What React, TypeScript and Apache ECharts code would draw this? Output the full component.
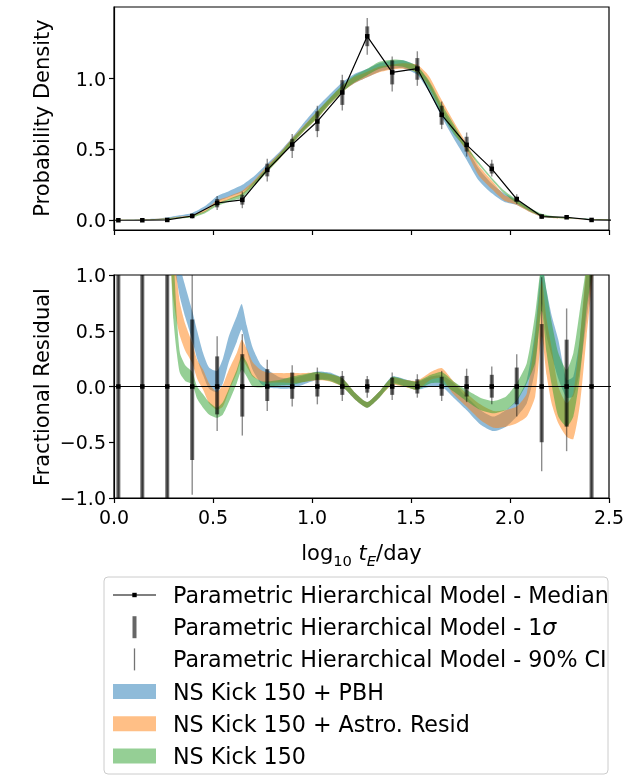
import React, { useEffect, useRef } from 'react';
import * as echarts from 'echarts';

// ---- bin centres (log10 tE/day) and hierarchical-model summaries ----
const binX = [-0.104, 0.022, 0.143, 0.269, 0.395, 0.521, 0.648, 0.774, 0.900, 1.027, 1.153, 1.279, 1.405, 1.532, 1.655, 1.781, 1.908, 2.034, 2.160, 2.286, 2.412, 2.538];
const medianPDF = [0, 0.000, 0.000, 0.002, 0.030, 0.122, 0.144, 0.356, 0.535, 0.698, 0.903, 1.300, 1.045, 1.071, 0.745, 0.533, 0.363, 0.149, 0.026, 0.021, 0.002, 0];
const sigLoPDF = [null, 0.000, 0.000, 0.000, 0.021, 0.091, 0.110, 0.310, 0.490, 0.630, 0.815, 1.230, 0.960, 0.993, 0.675, 0.485, 0.330, 0.130, 0.018, 0.016, 0.000, null];
const sigHiPDF = [null, 0.002, 0.002, 0.005, 0.040, 0.150, 0.180, 0.400, 0.575, 0.770, 0.990, 1.370, 1.130, 1.146, 0.809, 0.590, 0.400, 0.167, 0.034, 0.026, 0.004, null];
const ciLoPDF = [null, 0.000, 0.000, 0.000, 0.013, 0.073, 0.085, 0.273, 0.440, 0.587, 0.776, 1.170, 0.910, 0.950, 0.644, 0.450, 0.309, 0.115, 0.010, 0.012, 0.000, null];
const ciHiPDF = [null, 0.004, 0.004, 0.008, 0.050, 0.171, 0.202, 0.434, 0.610, 0.809, 1.028, 1.430, 1.158, 1.194, 0.839, 0.620, 0.427, 0.184, 0.040, 0.030, 0.006, null];

const residMedian = [0, 0, 0, 0, 0, 0, 0, 0, 0, 0, 0, 0, 0, 0, 0, 0, 0, 0, 0, 0, 0, 0];
const sigLoRes = [null, -9, -9, -9, -0.66, -0.25, -0.27, -0.13, -0.11, -0.09, -0.075, -0.055, -0.075, -0.063, -0.083, -0.09, -0.10, -0.16, -0.50, -0.36, -9, null];
const sigHiRes = [null, 9, 9, 9, 0.60, 0.27, 0.29, 0.155, 0.125, 0.11, 0.095, 0.065, 0.08, 0.065, 0.087, 0.095, 0.105, 0.17, 0.56, 0.42, 9, null];
const ciLoRes = [null, -9, -9, -9, -0.97, -0.40, -0.44, -0.22, -0.18, -0.16, -0.13, -0.10, -0.12, -0.10, -0.13, -0.14, -0.16, -0.27, -0.76, -0.58, -9, null];
const ciHiRes = [null, 9, 9, 9, 1.05, 0.45, 0.47, 0.24, 0.19, 0.17, 0.14, 0.095, 0.125, 0.11, 0.14, 0.16, 0.18, 0.29, 0.98, 0.70, 9, null];

// ---- model bands, top panel: [lower, upper] ----
const topX = [0.0, 0.1, 0.2, 0.27, 0.33, 0.395, 0.46, 0.52, 0.58, 0.648, 0.71, 0.774, 0.84, 0.90, 0.96, 1.027, 1.09, 1.153, 1.21, 1.279, 1.34, 1.405, 1.46, 1.53, 1.59, 1.655, 1.715, 1.78, 1.84, 1.908, 1.97, 2.034, 2.1, 2.16, 2.22, 2.286, 2.35, 2.41, 2.5];
const topPBH = [[0.000,0.002],[0.001,0.004],[0.004,0.010],[0.010,0.020],[0.022,0.035],[0.035,0.052],[0.075,0.100],[0.130,0.170],[0.165,0.205],[0.200,0.250],[0.265,0.315],[0.350,0.400],[0.445,0.490],[0.545,0.585],[0.640,0.690],[0.730,0.800],[0.830,0.890],[0.910,0.975],[0.965,1.030],[1.010,1.070],[1.050,1.110],[1.070,1.125],[1.075,1.130],[1.030,1.090],[0.910,0.980],[0.730,0.800],[0.580,0.660],[0.430,0.520],[0.285,0.370],[0.190,0.260],[0.130,0.190],[0.108,0.144],[0.060,0.085],[0.025,0.040],[0.015,0.025],[0.012,0.020],[0.008,0.014],[0.004,0.009],[0.001,0.004]];
const topAstro = [[0.000,0.002],[0.001,0.003],[0.003,0.008],[0.008,0.015],[0.015,0.025],[0.025,0.035],[0.058,0.075],[0.115,0.140],[0.145,0.170],[0.180,0.210],[0.255,0.285],[0.345,0.385],[0.440,0.480],[0.540,0.580],[0.630,0.670],[0.720,0.770],[0.820,0.860],[0.905,0.950],[0.965,1.010],[1.010,1.050],[1.045,1.085],[1.065,1.100],[1.070,1.110],[1.045,1.100],[0.950,1.020],[0.770,0.850],[0.630,0.700],[0.485,0.545],[0.320,0.390],[0.220,0.280],[0.140,0.180],[0.108,0.140],[0.058,0.080],[0.024,0.038],[0.014,0.024],[0.011,0.018],[0.007,0.012],[0.004,0.008],[0.001,0.004]];
const topKick = [[0.000,0.002],[0.001,0.003],[0.003,0.007],[0.007,0.013],[0.013,0.022],[0.020,0.032],[0.050,0.065],[0.100,0.120],[0.130,0.150],[0.160,0.190],[0.245,0.275],[0.340,0.375],[0.440,0.475],[0.540,0.575],[0.630,0.665],[0.720,0.770],[0.820,0.865],[0.905,0.955],[0.970,1.020],[1.025,1.070],[1.070,1.120],[1.090,1.135],[1.085,1.130],[1.040,1.090],[0.930,0.990],[0.750,0.820],[0.610,0.680],[0.505,0.525],[0.395,0.415],[0.285,0.300],[0.190,0.210],[0.120,0.145],[0.065,0.088],[0.028,0.045],[0.016,0.028],[0.012,0.020],[0.008,0.014],[0.004,0.009],[0.001,0.004]];

// ---- model bands, residual panel: [lower, upper] ----
const resX = [0.29, 0.30, 0.317, 0.333, 0.36, 0.395, 0.42, 0.45, 0.48, 0.52, 0.55, 0.58, 0.62, 0.645, 0.67, 0.70, 0.74, 0.774, 0.84, 0.90, 0.96, 1.027, 1.09, 1.153, 1.22, 1.279, 1.34, 1.405, 1.47, 1.53, 1.60, 1.655, 1.715, 1.78, 1.85, 1.917, 1.98, 2.034, 2.085, 2.127, 2.16, 2.185, 2.21, 2.244, 2.286, 2.32, 2.354, 2.387, 2.42];
const resPBH = [[1.20,1.80],[1.08,1.60],[0.95,1.30],[0.80,1.08],[0.62,0.90],[0.42,0.68],[0.25,0.50],[0.10,0.30],[-0.02,0.17],[-0.05,0.14],[0.03,0.25],[0.22,0.45],[0.40,0.63],[0.51,0.74],[0.33,0.55],[0.15,0.35],[0.03,0.20],[-0.01,0.15],[-0.02,0.08],[-0.015,0.075],[0.02,0.10],[0.06,0.135],[0.06,0.125],[0.0,0.075],[-0.12,-0.06],[-0.19,-0.14],[-0.10,-0.045],[0.035,0.09],[0.0,0.065],[-0.03,0.04],[0.0,0.09],[0.0,0.10],[-0.10,0.03],[-0.21,-0.09],[-0.34,-0.21],[-0.40,-0.27],[-0.36,-0.21],[-0.27,-0.12],[-0.15,0.06],[0.15,0.50],[0.74,1.10],[0.45,0.86],[0.28,0.64],[0.07,0.42],[-0.10,0.06],[-0.09,0.09],[0.15,0.45],[0.60,1.05],[1.10,1.60]];
const resAstro = [[1.00,1.50],[0.78,1.20],[0.58,0.98],[0.45,0.75],[0.32,0.56],[0.21,0.39],[0.07,0.24],[-0.03,0.15],[-0.15,0.03],[-0.21,-0.05],[-0.18,0.015],[-0.045,0.15],[0.12,0.30],[0.25,0.42],[0.18,0.34],[0.09,0.22],[0.05,0.15],[0.035,0.125],[0.035,0.12],[0.03,0.12],[0.04,0.12],[0.055,0.125],[0.045,0.11],[0.0,0.075],[-0.12,-0.06],[-0.19,-0.14],[-0.10,-0.045],[0.015,0.08],[-0.005,0.06],[-0.03,0.05],[0.06,0.13],[0.075,0.165],[-0.07,0.045],[-0.18,-0.06],[-0.30,-0.16],[-0.37,-0.22],[-0.36,-0.21],[-0.33,-0.18],[-0.27,-0.06],[-0.09,0.45],[0.45,0.95],[0.10,0.60],[-0.15,0.35],[-0.33,0.0],[-0.45,-0.15],[-0.47,-0.06],[-0.15,0.45],[0.45,1.10],[1.05,1.60]];
const resKick = [[1.00,1.50],[0.60,1.20],[0.30,0.62],[0.12,0.30],[0.05,0.19],[0.02,0.13],[-0.11,0.00],[-0.19,-0.07],[-0.25,-0.14],[-0.28,-0.19],[-0.25,-0.14],[-0.14,-0.02],[0.03,0.15],[0.15,0.28],[0.09,0.22],[0.0,0.10],[-0.01,0.05],[0.0,0.045],[0.01,0.06],[0.015,0.09],[0.04,0.11],[0.06,0.13],[0.05,0.115],[0.0,0.075],[-0.12,-0.06],[-0.19,-0.14],[-0.10,-0.045],[0.02,0.085],[0.0,0.06],[-0.03,0.045],[0.03,0.105],[0.03,0.13],[-0.045,0.045],[-0.13,-0.03],[-0.21,-0.10],[-0.24,-0.13],[-0.21,-0.09],[-0.13,0.03],[0.03,0.21],[0.21,0.65],[0.68,1.10],[0.30,0.85],[0.02,0.58],[-0.27,0.30],[-0.36,0.15],[-0.27,0.30],[0.10,0.70],[0.70,1.10],[1.10,1.60]];

const xTicks = [0, 0.5, 1.0, 1.5, 2.0, 2.5];
const topYTicks = [0, 0.5, 1.0];
const resYTicks = [-1.0, -0.5, 0, 0.5, 1.0];

const legendLabels = [
  'Parametric Hierarchical Model - Median',
  'Parametric Hierarchical Model - 1{s|σ}',
  'Parametric Hierarchical Model - 90% CI',
  'NS Kick 150 + PBH',
  'NS Kick 150 + Astro. Resid',
  'NS Kick 150',
];

const C_BLUE = 'rgba(31,119,180,0.5)';
const C_ORANGE = 'rgba(255,127,14,0.5)';
const C_GREEN = 'rgba(44,160,44,0.5)';
const FONT = 'DejaVu Sans';
const LEG_FS = 22.2;

const fmt = (v: number) => (v < 0 ? '\u2212' : '') + Math.abs(v).toFixed(1);

function bandSeries(xs: number[], pairs: number[][], color: string, ai: number) {
  return {
    type: 'custom', xAxisIndex: ai, yAxisIndex: ai, clip: true, z: 2, silent: true,
    data: [[xs[0], pairs[0][0]]],
    renderItem: (_p: any, api: any) => {
      const up = xs.map((x, i) => api.coord([x, pairs[i][1]]));
      const lo = xs.map((x, i) => api.coord([x, pairs[i][0]])).reverse();
      return { type: 'polygon', shape: { points: up.concat(lo), smooth: 0.2 }, style: { fill: color, stroke: null } };
    },
  };
}

function errSeries(lo: (number | null)[], hi: (number | null)[], width: number, color: string, ai: number) {
  const data = binX.map((x, i) => [x, lo[i], hi[i]]).filter((d) => d[1] != null && d[2] != null);
  return {
    type: 'custom', xAxisIndex: ai, yAxisIndex: ai, clip: true, z: 3, silent: true,
    data,
    encode: { x: 0, y: [1, 2] },
    renderItem: (_p: any, api: any) => {
      const x = api.value(0);
      const a = api.coord([x, api.value(1)]);
      const b = api.coord([x, api.value(2)]);
      return { type: 'line', shape: { x1: a[0], y1: a[1], x2: b[0], y2: b[1] }, style: { stroke: color, lineWidth: width } };
    },
  };
}

function medianSeries(vals: number[], ai: number) {
  return {
    type: 'line', xAxisIndex: ai, yAxisIndex: ai, clip: true, z: 5, silent: true,
    data: binX.map((x, i) => [x, vals[i]]),
    symbol: 'rect', symbolSize: 4.5, showSymbol: true, showAllSymbol: true,
    itemStyle: { color: '#000' }, lineStyle: { color: '#000', width: 1.2 },
  };
}

function xAxis(ai: number, labels: boolean) {
  return {
    type: 'value', gridIndex: ai, min: 0, max: 2.5, interval: 0.5,
    axisLine: { show: true, onZero: false, lineStyle: { color: '#000', width: 1.2 } },
    axisTick: { show: true, length: 5, lineStyle: { color: '#000', width: 1.2 }, customValues: xTicks },
    axisLabel: { show: labels, fontSize: 19, color: '#000', fontFamily: FONT, margin: 9, formatter: fmt, customValues: xTicks },
    splitLine: { show: false },
  };
}

function yAxis(ai: number, min: number, max: number, ticks: number[]) {
  return {
    type: 'value', gridIndex: ai, min, max,
    axisLine: { show: true, onZero: false, lineStyle: { color: '#000', width: 1.2 } },
    axisTick: { show: true, length: 5, lineStyle: { color: '#000', width: 1.2 }, customValues: ticks },
    axisLabel: { fontSize: 19, color: '#000', fontFamily: FONT, margin: 8, formatter: fmt, customValues: ticks },
    splitLine: { show: false },
  };
}

function legendGraphics() {
  const x0 = 104, y0 = 577, rowY0 = 595, dy = 32.2;
  const hx1 = 113, hx2 = 156, hc = 134.5;
  const els: any[] = [
    { type: 'rect', shape: { x: x0, y: y0, width: 504, height: 197, r: 4 }, style: { fill: '#fff', stroke: '#cccccc', lineWidth: 1 }, z: 10 },
  ];
  const ry = (i: number) => rowY0 + i * dy;
  // median handle
  els.push({ type: 'line', shape: { x1: hx1, y1: ry(0), x2: hx2, y2: ry(0) }, style: { stroke: '#000', lineWidth: 1.2 }, z: 11 });
  els.push({ type: 'rect', shape: { x: hc - 2.2, y: ry(0) - 2.2, width: 4.4, height: 4.4 }, style: { fill: '#000' }, z: 12 });
  // 1 sigma handle
  els.push({ type: 'line', shape: { x1: hc, y1: ry(1) - 11, x2: hc, y2: ry(1) + 11 }, style: { stroke: 'rgba(0,0,0,0.6)', lineWidth: 4 }, z: 11 });
  // 90% handle
  els.push({ type: 'line', shape: { x1: hc, y1: ry(2) - 11, x2: hc, y2: ry(2) + 11 }, style: { stroke: 'rgba(0,0,0,0.55)', lineWidth: 1.3 }, z: 11 });
  // patches
  [C_BLUE, C_ORANGE, C_GREEN].forEach((c, k) => {
    els.push({ type: 'rect', shape: { x: hx1, y: ry(3 + k) - 7.5, width: hx2 - hx1, height: 15 }, style: { fill: c }, z: 11 });
  });
  legendLabels.forEach((t, i) => {
    els.push({
      type: 'text', x: 173, y: ry(i), z: 12,
      style: {
        text: t, fontSize: LEG_FS, fontFamily: FONT, fill: '#000', align: 'left', verticalAlign: 'middle',
        rich: { s: { fontSize: LEG_FS, fontFamily: FONT, fontStyle: 'italic', fill: '#000' } },
      },
    });
  });
  return els;
}

export default function App() {
  const ref = useRef<HTMLDivElement>(null);
  useEffect(() => {
    if (!ref.current) return;
    const chart = echarts.init(ref.current, null, { renderer: 'svg' });
    const option: any = {
      animation: false,
      textStyle: { fontFamily: FONT, color: '#000' },
      grid: [
        { left: 114, top: 7, width: 495, height: 223, show: true, borderColor: '#000', borderWidth: 1.2, backgroundColor: 'transparent' },
        { left: 114, top: 275, width: 495, height: 223, show: true, borderColor: '#000', borderWidth: 1.2, backgroundColor: 'transparent' },
      ],
      xAxis: [xAxis(0, false), xAxis(1, true)],
      yAxis: [yAxis(0, -0.069, 1.507, topYTicks), yAxis(1, -1, 1, resYTicks)],
      series: [
        bandSeries(topX, topPBH, C_BLUE, 0),
        bandSeries(topX, topAstro, C_ORANGE, 0),
        bandSeries(topX, topKick, C_GREEN, 0),
        errSeries(ciLoPDF, ciHiPDF, 1.4, 'rgba(0,0,0,0.45)', 0),
        errSeries(sigLoPDF, sigHiPDF, 4, 'rgba(0,0,0,0.55)', 0),
        medianSeries(medianPDF, 0),
        bandSeries(resX, resPBH, C_BLUE, 1),
        bandSeries(resX, resAstro, C_ORANGE, 1),
        bandSeries(resX, resKick, C_GREEN, 1),
        errSeries(ciLoRes, ciHiRes, 1.4, 'rgba(0,0,0,0.45)', 1),
        errSeries(sigLoRes, sigHiRes, 4, 'rgba(0,0,0,0.6)', 1),
        medianSeries(residMedian, 1),
      ],
      graphic: [
        {
          type: 'text', x: 42, y: 118, rotation: Math.PI / 2,
          style: { text: 'Probability Density', fontSize: 21, fontFamily: FONT, fill: '#000', align: 'center', verticalAlign: 'middle' },
        },
        {
          type: 'text', x: 42, y: 387, rotation: Math.PI / 2,
          style: { text: 'Fractional Residual', fontSize: 21, fontFamily: FONT, fill: '#000', align: 'center', verticalAlign: 'middle' },
        },
        {
          type: 'text', x: 361.5, y: 553,
          style: {
            text: '{a|log}{b|10}{c| t}{d|E}{a|/day}', align: 'center', verticalAlign: 'middle',
            rich: {
              a: { fontSize: 21, fontFamily: FONT, fill: '#000', lineHeight: 30 },
              b: { fontSize: 14.7, fontFamily: FONT, fill: '#000', lineHeight: 18, verticalAlign: 'bottom' },
              c: { fontSize: 21, fontFamily: FONT, fontStyle: 'italic', fill: '#000', lineHeight: 30 },
              d: { fontSize: 14.7, fontFamily: FONT, fontStyle: 'italic', fill: '#000', lineHeight: 18, verticalAlign: 'bottom' },
            },
          },
        },
        ...legendGraphics(),
      ],
    };
    chart.setOption(option);
    return () => chart.dispose();
  }, []);
  return <div ref={ref} style={{ position: 'fixed', left: 0, top: 0, width: 639, height: 777 }} />;
}
